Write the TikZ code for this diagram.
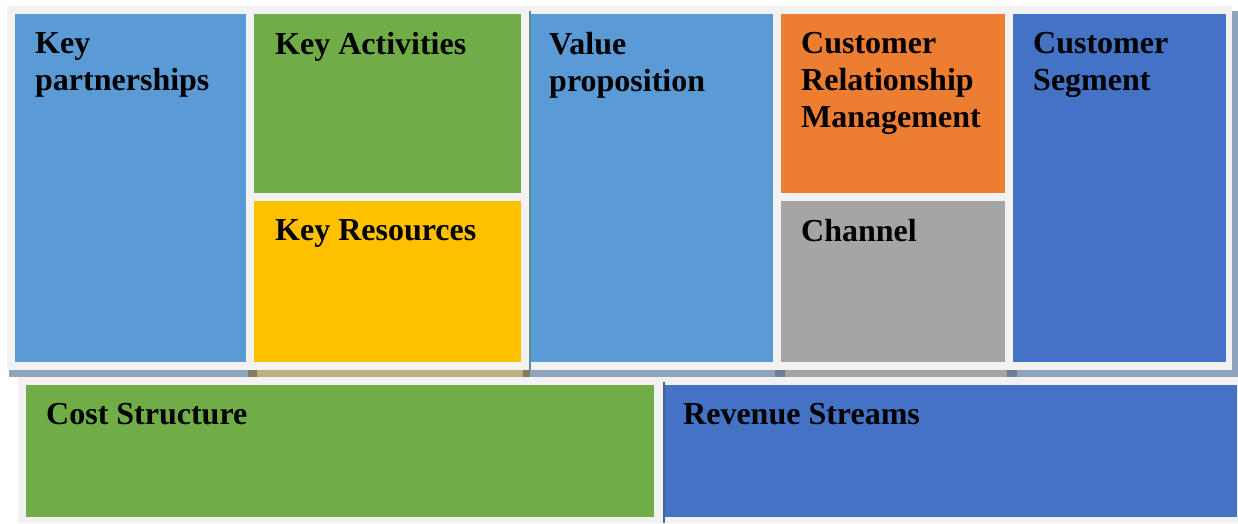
\documentclass[tikz,border=0pt]{standalone}
\usepackage{fontspec}
\setmainfont{Liberation Serif}
\usepackage{tikz}
\usetikzlibrary{positioning}
\definecolor{cvframe}{HTML}{F2F2F2}
\definecolor{cvblue}{HTML}{5B9BD5}
\definecolor{cvdarkblue}{HTML}{4472C4}
\definecolor{cvgreen}{HTML}{70AD47}
\definecolor{cvyellow}{HTML}{FFC000}
\definecolor{cvorange}{HTML}{ED7D31}
\definecolor{cvgray}{HTML}{A5A5A5}
\definecolor{shblue}{HTML}{8EA3BC}
\definecolor{shtan}{HTML}{BFAE80}
\definecolor{sholive}{HTML}{827D60}
\definecolor{shslate}{HTML}{6F7F90}
\definecolor{shgray}{HTML}{A4A4A4}
\definecolor{vpedge}{HTML}{5F8A98}
\definecolor{revedge}{HTML}{46648A}
\tikzstyle{cvblock} = [rectangle, draw=none, anchor=north west, inner sep=0pt]
\tikzstyle{cvlabel} = [inner sep=0pt, align=left, text=black,
    font=\bfseries\fontsize{32}{37}\selectfont]
\tikzstyle{cvedge} = [line width=2.5pt]

\begin{document}
\begin{tikzpicture}[x=1pt, y=-1pt]
    \useasboundingbox (0,0) rectangle (1238,523);
    \fill[white] (0,0) rectangle (1238,523);
    % Frames and shadows
    \fill[cvframe] (7,6) rectangle (1232,370);
    \fill[shblue] (1232,11) rectangle (1238,377);
    \foreach \xa/\xb/\col in {9/248/shblue, 248/257/sholive, 257/523/shtan,
        523/530/sholive, 530/775/shblue, 775/785/shslate, 785/1007/shgray,
        1007/1017/shslate, 1017/1232/shblue}
        \fill[\col] (\xa,370) rectangle (\xb,377);
    \fill[cvframe] (18,377) rectangle (1238,523);

    % Blocks
    \node [cvblock, fill=cvblue, minimum width=231pt, minimum height=348pt] (kp) at (15,14) {};
    \node [cvblock, fill=cvgreen, minimum width=267pt, minimum height=179pt] (ka) at (254,14) {};
    \node [cvblock, fill=cvyellow, minimum width=267pt, minimum height=161pt] (kr) at (254,201) {};
    \node [cvblock, fill=cvblue, minimum width=244pt, minimum height=348pt] (vp) at (529,14) {};
    \node [cvblock, fill=cvorange, minimum width=224pt, minimum height=179pt] (crm) at (781,14) {};
    \node [cvblock, fill=cvgray, minimum width=224pt, minimum height=161pt] (ch) at (781,201) {};
    \node [cvblock, fill=cvdarkblue, minimum width=213pt, minimum height=348pt] (cs) at (1013,14) {};
    \node [cvblock, fill=cvgreen, minimum width=628pt, minimum height=132pt] (cost) at (26,385) {};
    \node [cvblock, fill=cvdarkblue, minimum width=574pt, minimum height=132pt] (rev) at (663,385) {};
    \draw[cvedge, vpedge] (530,11) -- (530,370);
    \draw[cvedge, revedge] (664,382) -- (664,523);

    % Labels
    \node [cvlabel, below right=18pt and 20pt of kp.north west] {Key\\partnerships};
    \node [cvlabel, below right=18pt and 21pt of ka.north west] {Key Activities};
    \node [cvlabel, below right=18pt and 21pt of kr.north west] {Key Resources};
    \node [cvlabel, below right=18pt and 20pt of vp.north west] {Value\\proposition};
    \node [cvlabel, below right=18pt and 20pt of crm.north west] {Customer\\Relationship\\Management};
    \node [cvlabel, below right=18pt and 20pt of ch.north west] {Channel};
    \node [cvlabel, below right=18pt and 20pt of cs.north west] {Customer\\Segment};
    \node [cvlabel, below right=18pt and 20pt of cost.north west] {Cost Structure};
    \node [cvlabel, below right=18pt and 20pt of rev.north west] {Revenue Streams};

\end{tikzpicture}
\end{document}
